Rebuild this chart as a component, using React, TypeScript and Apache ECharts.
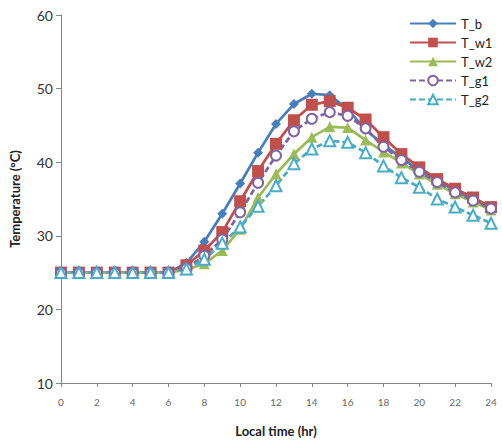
import React, { useEffect, useRef } from "react";
import * as echarts from "echarts";

const hours = [0,1,2,3,4,5,6,7,8,9,10,11,12,13,14,15,16,17,18,19,20,21,22,23,24];
const T_b  = [25,25,25,25,25,25,25,26.3,29.2,33.0,37.1,41.3,45.2,47.9,49.3,49.1,47.2,44.4,42.4,40.6,38.9,37.5,36.1,34.9,33.8];
const T_w1 = [25,25,25,25,25,25,25,26.0,28.0,30.5,34.7,38.8,42.5,45.7,47.8,48.3,47.4,45.8,43.4,41.1,39.3,37.7,36.4,35.2,33.9];
const T_w2 = [25,25,25,25,25,25,25,25.4,26.2,28.0,30.9,35.2,38.4,41.1,43.4,44.8,44.7,43.0,41.4,39.9,38.4,37.0,35.7,34.6,33.5];
const T_g1 = [25,25,25,25,25,25,25,25.6,27.3,29.5,33.2,37.2,40.9,44.2,45.9,46.8,46.3,44.6,42.1,40.3,38.7,37.3,35.9,34.8,33.7];
const T_g2 = [25,25,25,25,25,25,25,25.5,26.8,29.0,31.2,34.0,36.8,39.8,41.8,42.9,42.7,41.3,39.5,37.9,36.6,35.0,33.9,32.8,31.7];

const pair = (v: number[]) => hours.map((h, i) => [h, v[i]]);

export default function App() {
  const ref = useRef<HTMLDivElement>(null);
  useEffect(() => {
    if (!ref.current) return;
    const chart = echarts.init(ref.current, undefined, { renderer: "svg" });
    const font = "Lato, 'Open Sans', sans-serif";
    const mk = (name: string, data: number[], color: string, symbol: string, size: number, dashed: boolean, hollow: boolean) => ({
      name,
      type: "line",
      data: pair(data),
      symbol,
      symbolSize: size,
      showAllSymbol: true,
      lineStyle: { color, width: 2.75, type: dashed ? [6, 3] : "solid" },
      itemStyle: hollow
        ? { color: "#ffffff", borderColor: color, borderWidth: 2 }
        : { color, borderColor: color, borderWidth: 0 },
    });
    chart.setOption({
      animation: false,
      backgroundColor: "#ffffff",
      grid: { left: 60, right: 11, top: 15, bottom: 58, containLabel: false },
      legend: {
        orient: "vertical",
        left: 404,
        top: 12,
        itemWidth: 46,
        itemHeight: 12,
        itemGap: 6,
        textStyle: { fontFamily: font, fontSize: 13, color: "#222" },
        data: ["T_b", "T_w1", "T_w2", "T_g1", "T_g2"],
      },
      xAxis: {
        type: "value",
        min: 0,
        max: 24,
        interval: 2,
        name: "Local time (hr)",
        nameLocation: "middle",
        nameGap: 41,
        nameTextStyle: { fontFamily: font, fontSize: 13, fontWeight: "bold", color: "#222" },
        axisLine: { show: true, lineStyle: { color: "#868686", width: 1 } },
        axisTick: { show: true, length: 4, lineStyle: { color: "#868686" } },
        axisLabel: { fontFamily: font, fontSize: 10, color: "#666", margin: 14, formatter: (v: number) => String(v) },
        splitLine: { show: false },
      },
      yAxis: {
        type: "value",
        min: 10,
        max: 60,
        interval: 10,
        name: "Temperature (°C)",
        nameLocation: "middle",
        nameGap: 40,
        nameTextStyle: { fontFamily: font, fontSize: 13, fontWeight: "bold", color: "#222" },
        axisLine: { show: true, lineStyle: { color: "#868686", width: 1 } },
        axisTick: { show: true, length: 5, lineStyle: { color: "#868686" } },
        axisLabel: { fontFamily: font, fontSize: 14, color: "#333", margin: 8 },
        splitLine: { show: false },
      },
      series: [
        mk("T_b", T_b, "#4A7EBB", "diamond", 10, false, false),
        mk("T_w1", T_w1, "#C0504D", "rect", 12, false, false),
        mk("T_w2", T_w2, "#9BBB59", "triangle", 11, false, false),
        mk("T_g1", T_g1, "#8064A2", "circle", 10, true, true),
        mk("T_g2", T_g2, "#4BACC6", "triangle", 11, true, true),
      ],
    });
    return () => chart.dispose();
  }, []);
  return <div ref={ref} style={{ width: 502, height: 442, position: "absolute", left: 0, top: 0 }} />;
}
